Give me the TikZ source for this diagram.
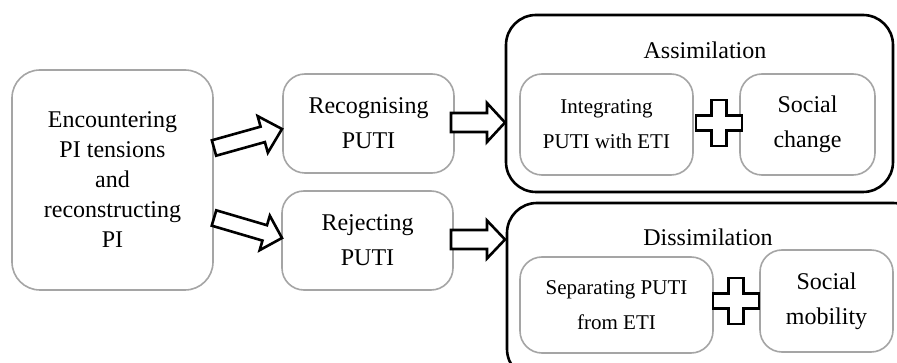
\documentclass[tikz,border=0pt]{standalone}
\usepackage{fontspec}
\setmainfont{Liberation Serif}
\usetikzlibrary{calc}
\definecolor{boxgray}{RGB}{165,165,165}
\tikzset{
  graybox/.style={draw=boxgray, line width=1.6pt, rounded corners=22pt, align=center,
    inner sep=0pt, font=\fontsize{24}{35}\selectfont},
  encbox/.style={graybox, rounded corners=28pt, font=\fontsize{24}{30}\selectfont},
  smallbox/.style={graybox, font=\fontsize{21}{35}\selectfont},
  groupbox/.style={draw=black, line width=2.6pt, rounded corners=30pt, inner sep=0pt},
  blockarr/.style={draw=black, fill=white, line width=2.6pt, line join=miter},
  plusst/.style={draw=black, fill=white, line width=2.6pt, line join=miter},
  grouptitle/.style={font=\fontsize{24}{30}\selectfont, anchor=base, inner sep=0pt},
}
% #1 start, #2 end (tip), #3 shaft half width, #4 head half width, #5 head length
\newcommand\blockarrow[5]{%
  \coordinate (tmpB) at ($(#2)!#5!(#1)$);
  \draw[blockarr] ($(#1)!#3!90:(#2)$) -- ($(tmpB)!#3!90:(#2)$) -- ($(tmpB)!#4!90:(#2)$)
    -- (#2) -- ($(tmpB)!#4!-90:(#2)$) -- ($(tmpB)!#3!-90:(#2)$) -- ($(#1)!#3!-90:(#2)$) -- cycle;}
% plus sign centred on coordinate #1
\newcommand\plussign[1]{%
  \begin{scope}[shift={(#1)}]
  \draw[plusst] (-7.5,-23) -- (7.5,-23) -- (7.5,-7.5) -- (23,-7.5) -- (23,7.5) -- (7.5,7.5)
    -- (7.5,23) -- (-7.5,23) -- (-7.5,7.5) -- (-23,7.5) -- (-23,-7.5) -- (-7.5,-7.5) -- cycle;
  \end{scope}}
\begin{document}
\begin{tikzpicture}[x=1pt, y=-1pt]
\useasboundingbox (0,0) rectangle (897,363);
\fill[white] (0,0) rectangle (897,363);

% left box
\node[encbox, minimum width=201pt, minimum height=220pt] (enc) at (112.5,180)
  {Encountering\\PI tensions\\and\\reconstructing\\PI};

% middle boxes
\node[graybox, minimum width=171pt, minimum height=99pt] (rec) at (368.5,123.5) {Recognising\\PUTI};
\node[graybox, minimum width=171pt, minimum height=99pt] (rej) at (367.5,240.5) {Rejecting\\PUTI};

% assimilation group
\node[groupbox, minimum width=387pt, minimum height=177pt] (assim) at (699.5,103.5) {};
\node[grouptitle] (assimt) at (705,59) {Assimilation};
\node[smallbox, minimum width=173pt, minimum height=101pt] (integ) at (606.5,124.5) {Integrating\\PUTI with ETI};
\node[graybox, minimum width=135pt, minimum height=101pt] (socch) at (807.5,124.5) {Social\\change};
\coordinate (plus1) at (719,123);
\plussign{plus1}

% dissimilation group (runs past the picture edge)
\begin{scope}
\clip (0,0) rectangle (897,363);
\node[groupbox, minimum width=416pt, minimum height=176pt] (dissim) at (715,291) {};
\end{scope}
\node[grouptitle] (dissimt) at (708,246) {Dissimilation};
\node[smallbox, minimum width=193pt, minimum height=96pt] (sep) at (616.5,305) {Separating PUTI\\from ETI};
\node[graybox, minimum width=133pt, minimum height=102pt] (socmob) at (826.5,301) {Social\\mobility};
\coordinate (plus2) at (736,301);
\plussign{plus2}

% block arrows
\coordinate (a1s) at (214,148);
\coordinate (a1e) at (282,129);
\coordinate (a2s) at (214,218);
\coordinate (a2e) at (282,238);
\coordinate (a3s) at (451,122.5);
\coordinate (a3e) at (505,122.5);
\coordinate (a4s) at (451,239.5);
\coordinate (a4e) at (505,239.5);
\blockarrow{a1s}{a1e}{8pt}{19pt}{20pt}
\blockarrow{a2s}{a2e}{8pt}{18pt}{18pt}
\blockarrow{a3s}{a3e}{9.5pt}{19.5pt}{18pt}
\blockarrow{a4s}{a4e}{9.5pt}{19pt}{18pt}
\end{tikzpicture}
\end{document}
